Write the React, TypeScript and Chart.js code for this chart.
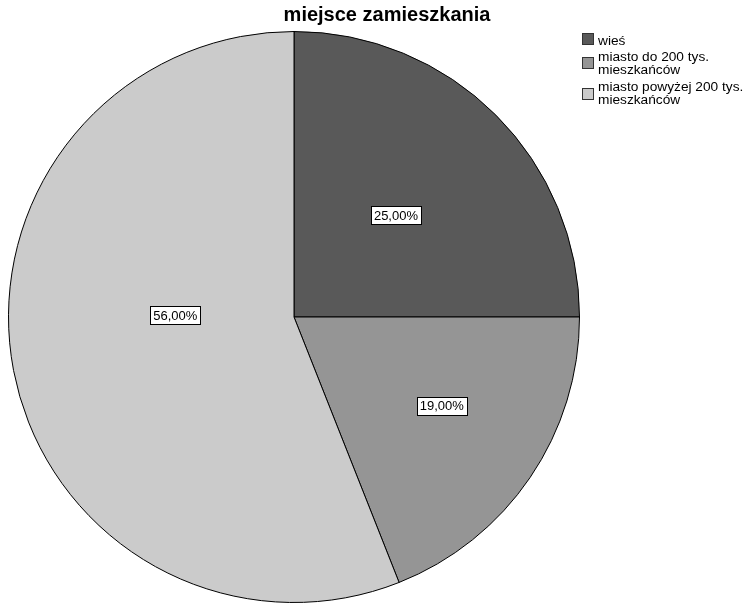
import React, { useEffect, useRef } from "react";
import { Chart, registerables } from "chart.js";

Chart.register(...registerables);

const TITLE = "miejsce zamieszkania";
const CATEGORIES = ["wieś", "miasto do 200 tys. mieszkańców", "miasto powyżej 200 tys. mieszkańców"];
const LEGEND_LINES = [["wieś"], ["miasto do 200 tys.", "mieszkańców"], ["miasto powyżej 200 tys.", "mieszkańców"]];
const VALUES = [25, 19, 56];
const COLORS = ["#595959", "#959595", "#cbcbcb"];

// label placement style (radius fraction, angular shift in degrees)
const LABEL_PLACEMENT = [
  { frac: 0.505, shift: 0 },
  { frac: 0.604, shift: -3.2 },
  { frac: 0.416, shift: 11.8 },
];

const FONT = '"Liberation Sans", Arial, sans-serif';

const overlayPlugin = {
  id: "overlay",
  afterDraw(chart: any) {
    const ctx = chart.ctx as CanvasRenderingContext2D;
    const meta = chart.getDatasetMeta(0);
    const total = VALUES.reduce((a, b) => a + b, 0);

    // slice labels
    ctx.save();
    ctx.font = `13px ${FONT}`;
    ctx.textBaseline = "middle";
    ctx.textAlign = "center";
    meta.data.forEach((arc: any, i: number) => {
      const p = LABEL_PLACEMENT[i];
      const mid = (arc.startAngle + arc.endAngle) / 2 + (p.shift * Math.PI) / 180;
      const r = arc.outerRadius * p.frac;
      const x = arc.x + Math.cos(mid) * r;
      const y = arc.y + Math.sin(mid) * r;
      const txt = ((VALUES[i] / total) * 100).toFixed(2).replace(".", ",") + "%";
      const w = ctx.measureText(txt).width + 6;
      const h = 18;
      ctx.fillStyle = "#ffffff";
      ctx.fillRect(Math.round(x - w / 2) + 0.5, Math.round(y - h / 2) + 0.5, Math.round(w), h);
      ctx.strokeStyle = "#000000";
      ctx.lineWidth = 1;
      ctx.strokeRect(Math.round(x - w / 2) + 0.5, Math.round(y - h / 2) + 0.5, Math.round(w), h);
      ctx.fillStyle = "#000000";
      ctx.fillText(txt, x, y + 1);
    });
    ctx.restore();

    // title
    ctx.save();
    ctx.font = `bold 20px ${FONT}`;
    ctx.fillStyle = "#000000";
    ctx.textAlign = "center";
    ctx.textBaseline = "alphabetic";
    ctx.fillText(TITLE, 387, 21);
    ctx.restore();

    // legend
    ctx.save();
    ctx.font = `13.7px ${FONT}`;
    ctx.textAlign = "left";
    ctx.textBaseline = "alphabetic";
    const baselines = [[45], [61, 74], [91, 104]];
    const squareTops = [33, 57, 88];
    LEGEND_LINES.forEach((lines, i) => {
      ctx.fillStyle = COLORS[i];
      ctx.fillRect(582.5, squareTops[i] + 0.5, 11, 11);
      ctx.strokeStyle = "#333333";
      ctx.lineWidth = 1;
      ctx.strokeRect(582.5, squareTops[i] + 0.5, 11, 11);
      ctx.fillStyle = "#000000";
      lines.forEach((ln, j) => {
        ctx.fillText(ln, 598, baselines[i][j]);
      });
    });
    ctx.restore();
  },
};

export default function App() {
  const ref = useRef<HTMLCanvasElement | null>(null);
  useEffect(() => {
    if (!ref.current) return;
    const chart = new Chart(ref.current, {
      type: "pie",
      data: {
        labels: CATEGORIES,
        datasets: [
          {
            data: VALUES,
            backgroundColor: COLORS,
            borderColor: "#000000",
            borderWidth: 1,
          },
        ],
      },
      options: {
        animation: false,
        responsive: false,
        devicePixelRatio: 1,
        layout: { padding: { left: 8, top: 31, right: 166, bottom: 1 } },
        plugins: {
          legend: { display: false },
          title: { display: false },
          tooltip: { enabled: false },
        },
      },
      plugins: [overlayPlugin],
    });
    return () => chart.destroy();
  }, []);
  return (
    <div style={{ position: "fixed", left: 0, top: 0, width: 746, height: 604, background: "#fff" }}>
      <canvas ref={ref} width={746} height={604} style={{ width: 746, height: 604 }} />
    </div>
  );
}
